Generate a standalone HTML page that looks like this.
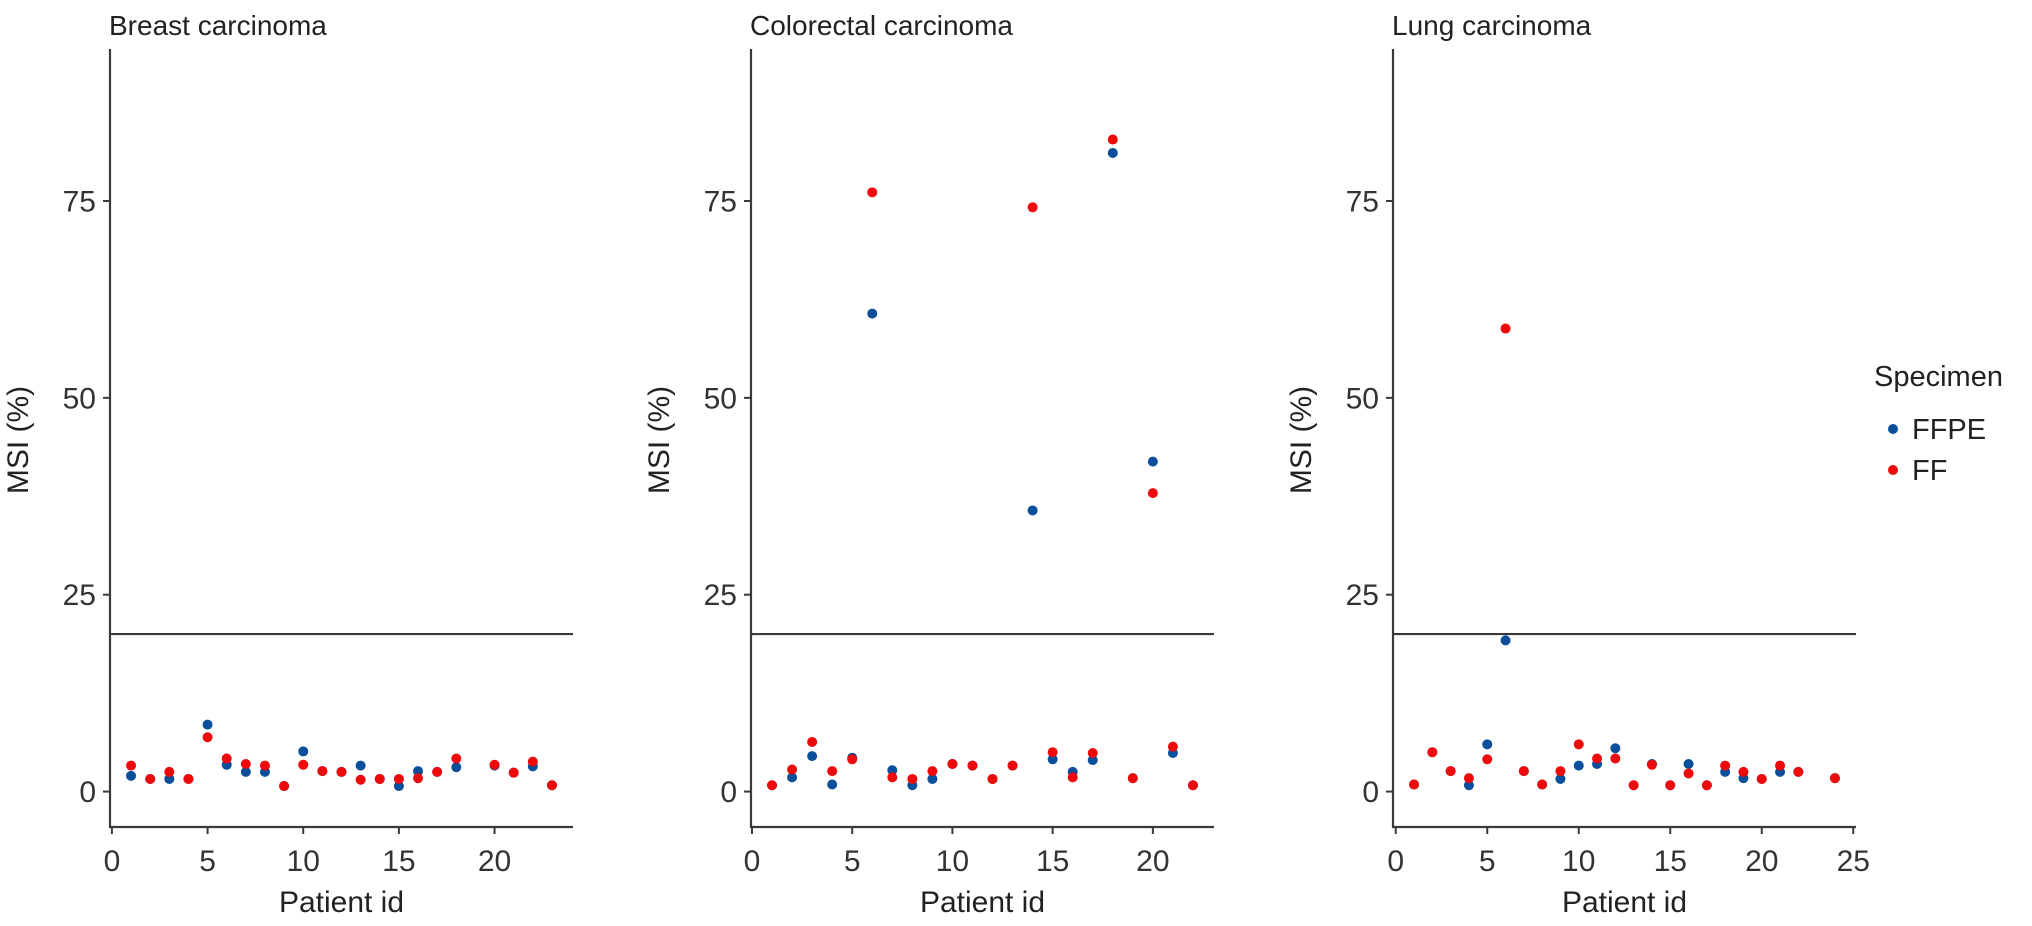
<!DOCTYPE html>
<html><head><meta charset="utf-8"><style>
html,body{margin:0;padding:0;background:#fff;}
svg{display:block;font-family:"Liberation Sans",Arial,sans-serif;}
</style></head><body>
<svg id="chart" width="2032" height="926" viewBox="0 0 2032 926"></svg>
<script>
const breastIds   = [1,2,3,4,5,6,7,8,9,10,11,12,13,14,15,16,17,18,20,21,22,23];
const breastFFPE  = [2.0,1.6,1.6,1.6,8.5,3.4,2.5,2.5,0.7,5.1,2.6,2.5,3.3,1.6,0.7,2.6,2.5,3.1,3.3,2.4,3.2,0.8];
const breastFF    = [3.3,1.6,2.5,1.6,6.9,4.2,3.5,3.3,0.7,3.4,2.6,2.5,1.5,1.6,1.6,1.7,2.5,4.2,3.4,2.4,3.8,0.8];
const colorectalIds  = [1,2,3,4,5,6,7,8,9,10,11,12,13,14,15,16,17,18,19,20,21,22];
const colorectalFFPE = [0.8,1.8,4.5,0.9,4.3,60.7,2.7,0.8,1.6,3.5,3.3,1.6,3.3,35.7,4.1,2.5,4.0,81.1,1.7,41.9,4.9,0.8];
const colorectalFF   = [0.8,2.8,6.3,2.6,4.1,76.1,1.8,1.6,2.6,3.5,3.3,1.6,3.3,74.2,5.0,1.8,4.9,82.8,1.7,37.9,5.7,0.8];
const lungIds  = [1,2,3,4,5,6,7,8,9,10,11,12,13,14,15,16,17,18,19,20,21,22,24];
const lungFFPE = [0.9,5.0,2.6,0.8,6.0,19.2,2.6,0.9,1.6,3.3,3.5,5.5,0.8,3.5,0.8,3.5,0.8,2.5,1.7,1.6,2.5,2.5,1.7];
const lungFF   = [0.9,5.0,2.6,1.7,4.1,58.8,2.6,0.9,2.6,6.0,4.2,4.2,0.8,3.4,0.8,2.3,0.8,3.3,2.5,1.6,3.3,2.5,1.7];
const yTicks = [0,25,50,75];
const xTicksA = [0,5,10,15,20];
const xTicksC = [0,5,10,15,20,25];
const threshold = 20;

const NS="http://www.w3.org/2000/svg";
const svg=document.getElementById('chart');
function mk(tag,attrs,parent){const e=document.createElementNS(NS,tag);for(const k in attrs)e.setAttribute(k,attrs[k]);(parent||svg).appendChild(e);return e;}
const TOP=49,BOT=827,YMIN=-4.5,YMAX=94.3;
function yScale(v){return BOT-(v-YMIN)/(YMAX-YMIN)*(BOT-TOP);}
const panels=[
 {name:'breast',title:'Breast carcinoma',left:110,right:573,xmin:-0.1,xmax:24.1,ids:breastIds,a:breastFFPE,b:breastFF,ticks:xTicksA},
 {name:'colorectal',title:'Colorectal carcinoma',left:751,right:1214,xmin:-0.05,xmax:23.05,ids:colorectalIds,a:colorectalFFPE,b:colorectalFF,ticks:xTicksA},
 {name:'lung',title:'Lung carcinoma',left:1393,right:1856,xmin:-0.15,xmax:25.15,ids:lungIds,a:lungFFPE,b:lungFF,ticks:xTicksC}
];
panels.forEach(p=>{
  const g=mk('g',{});
  
  
  const xs=v=>p.left+(v-p.xmin)/(p.xmax-p.xmin)*(p.right-p.left);
  const t=mk('text',{x:p.left-1,y:35,'font-size':28,fill:'#222'},g);t.textContent=p.title;
  
  const yl=mk('text',{x:0,y:0,'font-size':30,fill:'#222','text-anchor':'middle',transform:`translate(${p.left-82},${(TOP+BOT)/2+2}) rotate(-90)`},g);yl.textContent='MSI (%)';
  
  const xl=mk('text',{x:(p.left+p.right)/2,y:912,'font-size':30,fill:'#222','text-anchor':'middle'},g);xl.textContent='Patient id';
  
  const ya=mk('line',{x1:p.left,y1:TOP,x2:p.left,y2:BOT+1,stroke:'#3a3a3a','stroke-width':2.2},g);
  
  const xa=mk('line',{x1:p.left-1,y1:BOT,x2:p.right,y2:BOT,stroke:'#3a3a3a','stroke-width':2.2},g);
  
  yTicks.forEach(v=>{
    const y=yScale(v);
    mk('line',{x1:p.left-7,y1:y,x2:p.left,y2:y,stroke:'#3a3a3a','stroke-width':2},g);
    const tl=mk('text',{x:p.left-14,y:y+10.5,'font-size':30,fill:'#333','text-anchor':'end'},g);tl.textContent=v;
    
  });
  p.ticks.forEach(v=>{
    const x=xs(v);
    mk('line',{x1:x,y1:BOT,x2:x,y2:BOT+7,stroke:'#3a3a3a','stroke-width':2},g);
    const tl=mk('text',{x:x,y:871,'font-size':30,fill:'#333','text-anchor':'middle'},g);tl.textContent=v;
    
  });
  const hl=mk('line',{x1:p.left,y1:yScale(threshold),x2:p.right,y2:yScale(threshold),stroke:'#3a3a3a','stroke-width':2.2},g);
  
  p.ids.forEach((id,i)=>{
    const c=mk('circle',{cx:xs(id),cy:yScale(p.a[i]),r:5,fill:'#0a4f9c'},g);
    
  });
  p.ids.forEach((id,i)=>{
    const c=mk('circle',{cx:xs(id),cy:yScale(p.b[i]),r:5,fill:'#ee0a0a'},g);
    
  });
});
const lg=mk('g',{});

const lt=mk('text',{x:1874,y:386,'font-size':29,fill:'#222'},lg);lt.textContent='Specimen';

[['FFPE','#0a4f9c',429],['FF','#ee0a0a',470]].forEach(([n,c,y])=>{
  const d=mk('circle',{cx:1893,cy:y,r:5,fill:c},lg);
  
  const tx=mk('text',{x:1912,y:y+10,'font-size':29,fill:'#222'},lg);tx.textContent=n;
  
});
</script>
</body></html>
